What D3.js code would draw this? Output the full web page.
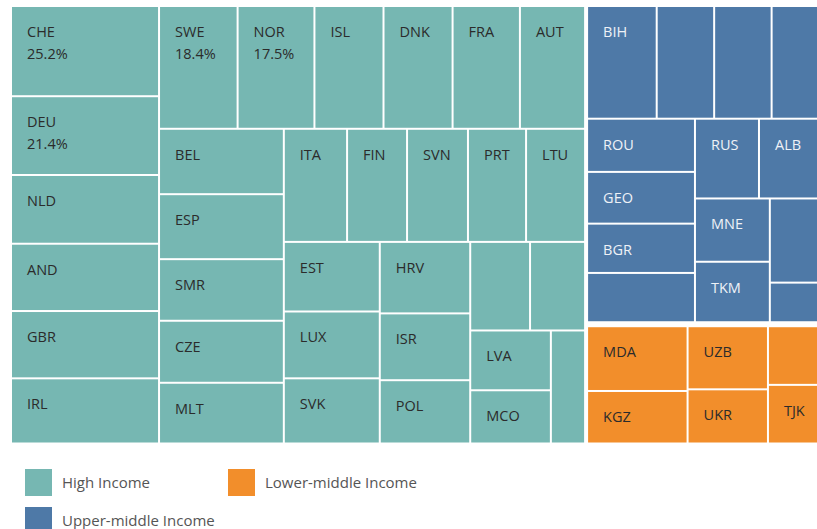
<!DOCTYPE html>
<html>
<head>
<meta charset="utf-8">
<script src="https://cdn.jsdelivr.net/npm/d3@7"></script>
<style>
body { margin: 0; background: #fff; }
svg { display: block; font-family: "Open Sans", sans-serif; }
</style>
</head>
<body>
<svg width="817" height="529"></svg>
<script>
// income groups, in treemap order
var groupNames = ["High Income", "Upper-middle Income", "Lower-middle Income"];
var groupColors = ["#76b7b2", "#4e79a7", "#f28e2b"];

// size per country ("" = mark without a label)
var highCodes = ["CHE","DEU","NLD","AND","GBR","IRL","SWE","NOR","ISL","DNK","FRA","AUT",
                 "BEL","ESP","SMR","CZE","MLT","ITA","FIN","SVN","PRT","LTU",
                 "EST","LUX","SVK","HRV","ISR","POL","","","LVA","MCO",""];
var highValues = [25.2,22.0,19.2,18.8,18.8,18.2,18.2,17.8,16.0,16.0,15.6,15.1,
                  15.4,15.3,14.5,14.6,14.3,13.5,12.8,13.0,12.4,12.6,
                  12.6,12.1,11.8,12.2,11.4,10.8,10.0,9.2,9.1,8.1,7.3];

var upperCodes = ["BIH","","","","ROU","GEO","BGR","","RUS","ALB","MNE","TKM","",""];
var upperValues = [14.9,12.3,12.3,11.0,10.9,10.6,10.1,10.1,9.7,9.7,9.0,8.6,8.5,4.0];

var lowerCodes = ["MDA","KGZ","UZB","UKR","","TJK"];
var lowerValues = [12.7,10.3,9.9,8.5,6.3,6.3];

// second label line, only shown on these marks
var pctCodes = ["CHE","DEU","SWE","NOR"];
var pctValues = [25.2, 21.4, 18.4, 17.5];

var legendOrder = ["High Income", "Lower-middle Income", "Upper-middle Income"];

var svg = d3.select("svg");
var color = d3.scaleOrdinal().domain(groupNames).range(groupColors);

var codes = [highCodes, upperCodes, lowerCodes];
var values = [highValues, upperValues, lowerValues];

var data = {
	children: groupNames.map(function(g, i) {
		return {
			name: g,
			children: codes[i].map(function(c, j) { return { code: c, value: values[i][j] }; })
		};
	})
};

var root = d3.hierarchy(data).sum(function(d) { return d.value || 0; });

var treemap = d3.treemap()
	.tile(d3.treemapSquarify.ratio(1.72))
	.size([810, 435.5])
	.paddingInner(function(d) { return d.depth === 0 ? 4 : 2; })
	.paddingTop(function(d) { return d.data.name === "Lower-middle Income" ? 2 : 0; });
treemap(root);

var g = svg.append("g").attr("transform", "translate(12,7)");

var cell = g.selectAll(".cell")
	.data(root.leaves()).enter().append("g")
	.attr("class", "cell")
	.attr("transform", function(d) { return "translate(" + d.x0 + "," + d.y0 + ")"; });

cell.append("rect")
	.attr("width", function(d) { return d.x1 - d.x0; })
	.attr("height", function(d) { return d.y1 - d.y0; })
	.attr("fill", function(d) { return color(d.parent.data.name); });

var pct = d3.scaleOrdinal().domain(pctCodes).range(pctValues).unknown(null);

var label = cell.filter(function(d) { return d.data.code !== ""; })
	.append("text")
	.attr("x", 15)
	.attr("y", 30)
	.attr("font-size", "14.5px")
	.attr("fill", function(d) { return d.parent.data.name === "Upper-middle Income" ? "#eef2f7" : "#2b2b2b"; });

label.append("tspan").text(function(d) { return d.data.code; });
label.filter(function(d) { return pct(d.data.code) !== null; })
	.append("tspan")
	.attr("x", 15)
	.attr("dy", 21.5)
	.text(function(d) { return pct(d.data.code).toFixed(1) + "%"; });

// legend
var legend = svg.append("g").attr("class", "legend")
	.selectAll("g")
	.data(legendOrder).enter().append("g")
	.attr("transform", function(d, i) { return "translate(" + (25 + (i % 2) * 203) + "," + (469 + Math.floor(i / 2) * 38) + ")"; });

legend.append("rect")
	.attr("width", 27)
	.attr("height", 27)
	.attr("fill", function(d) { return color(d); });

legend.append("text")
	.attr("x", 37)
	.attr("y", 19)
	.attr("font-size", "15px")
	.attr("fill", "#555")
	.text(function(d) { return d; });
</script>
</body>
</html>
